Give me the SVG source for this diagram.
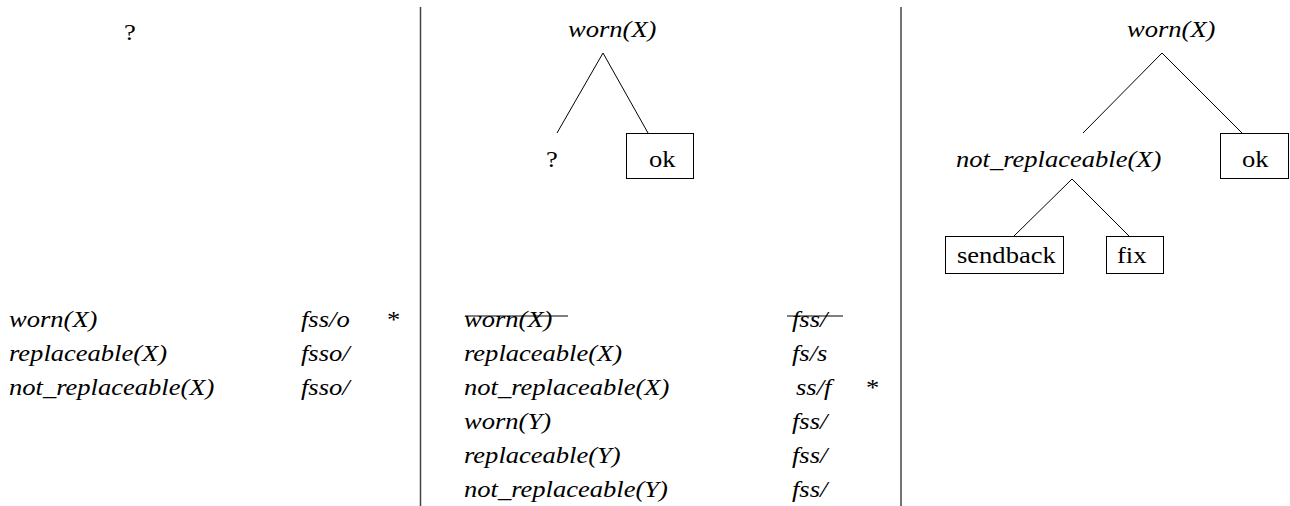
<svg xmlns="http://www.w3.org/2000/svg" width="1290" height="506" viewBox="0 0 1290 506">
<style>
text{font-family:"Liberation Serif","Times New Roman",serif;font-size:22.5px;fill:#000}
.i{font-style:italic}
.box{fill:#fff;stroke:#000;stroke-width:1}
.ln{stroke:#000;stroke-width:1;fill:none}
.div{stroke:#444;stroke-width:1.5}
</style>
<rect width="1290" height="506" fill="#fff"/>
<g id="dividers">
<line class="div" x1="420.5" y1="7" x2="420.5" y2="506"/>
<line class="div" x1="901" y1="7" x2="901" y2="506"/>
</g>
<g id="panel1">
<text transform="matrix(1.18 0 0 1 124 40)">?</text>
<text class="i" transform="matrix(1.18 0 0 1 9 327)">worn(X)</text>
<text class="i" transform="matrix(1.18 0 0 1 301 327)">fss/o</text>
<text transform="matrix(1.18 0 0 1 387 327)">*</text>
<text class="i" transform="matrix(1.18 0 0 1 9 361)">replaceable(X)</text>
<text class="i" transform="matrix(1.18 0 0 1 301 361)">fsso/</text>
<text class="i" transform="matrix(1.18 0 0 1 9 395)">not_replaceable(X)</text>
<text class="i" transform="matrix(1.18 0 0 1 301 395)">fsso/</text>
</g>
<g id="panel2-table">
<text class="i" transform="matrix(1.18 0 0 1 464 327)">worn(X)</text>
<line class="ln" x1="465" y1="316" x2="568" y2="316"/>
<text class="i" transform="matrix(1.18 0 0 1 792 327)">fss/</text>
<line class="ln" x1="787" y1="316" x2="843" y2="316"/>
<text class="i" transform="matrix(1.18 0 0 1 464 361)">replaceable(X)</text>
<text class="i" transform="matrix(1.18 0 0 1 792 361)">fs/s</text>
<text class="i" transform="matrix(1.18 0 0 1 464 395)">not_replaceable(X)</text>
<text class="i" transform="matrix(1.18 0 0 1 796 395)">ss/f</text>
<text transform="matrix(1.18 0 0 1 866 395)">*</text>
<text class="i" transform="matrix(1.18 0 0 1 464 429)">worn(Y)</text>
<text class="i" transform="matrix(1.18 0 0 1 792 429)">fss/</text>
<text class="i" transform="matrix(1.18 0 0 1 464 463)">replaceable(Y)</text>
<text class="i" transform="matrix(1.18 0 0 1 792 463)">fss/</text>
<text class="i" transform="matrix(1.18 0 0 1 464 497)">not_replaceable(Y)</text>
<text class="i" transform="matrix(1.18 0 0 1 792 497)">fss/</text>
</g>
<g id="connectors">
<line class="ln" x1="603" y1="53" x2="557" y2="133"/>
<line class="ln" x1="603" y1="53" x2="648" y2="133"/>
<line class="ln" x1="1162" y1="53" x2="1083" y2="133"/>
<line class="ln" x1="1162" y1="53" x2="1242" y2="133"/>
<line class="ln" x1="1072" y1="179" x2="1014" y2="236"/>
<line class="ln" x1="1072" y1="179" x2="1129" y2="236"/>
</g>
<g id="t2-root"><text class="i" transform="matrix(1.18 0 0 1 568 37)">worn(X)</text></g>
<g id="t2-q"><text transform="matrix(1.18 0 0 1 546 167)">?</text></g>
<g id="t2-ok"><rect class="box" x="626.5" y="133.5" width="67" height="45"/><text transform="matrix(1.18 0 0 1 649 167)">ok</text></g>
<g id="t3-root"><text class="i" transform="matrix(1.18 0 0 1 1127 37)">worn(X)</text></g>
<g id="t3-notrep"><text class="i" transform="matrix(1.18 0 0 1 956 167)">not_replaceable(X)</text></g>
<g id="t3-ok"><rect class="box" x="1220.5" y="133.5" width="68" height="45"/><text transform="matrix(1.18 0 0 1 1242 167)">ok</text></g>
<g id="t3-sendback"><rect class="box" x="945.5" y="236.5" width="118" height="37"/><text transform="matrix(1.18 0 0 1 957 263)">sendback</text></g>
<g id="t3-fix"><rect class="box" x="1106.5" y="236.5" width="57" height="37"/><text transform="matrix(1.18 0 0 1 1117 263)">fix</text></g>
</svg>
